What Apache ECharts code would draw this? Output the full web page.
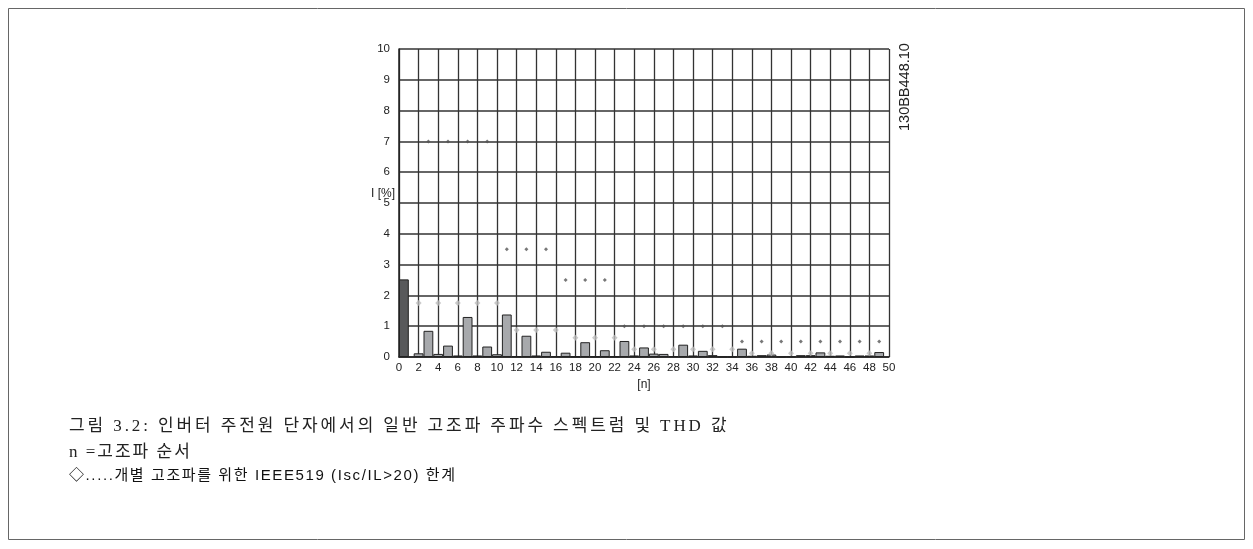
<!DOCTYPE html>
<html><head><meta charset="utf-8">
<script src="https://cdn.jsdelivr.net/npm/echarts@6/dist/echarts.min.js"></script>
<style>
html,body{margin:0;padding:0;background:#fff}
#wrap{position:relative;width:1253px;height:549px}
#c{width:1253px;height:549px}
.cap{position:absolute;left:69px;white-space:nowrap;color:#222}
.serif{font-family:"Liberation Serif","Noto Sans CJK KR",serif}
.sans{font-family:"Liberation Sans","Noto Sans CJK KR",sans-serif}
</style>
</head><body><div id="wrap"><div id="c"></div>
<div class="cap serif" id="cap1" style="top:411px;font-size:17px;letter-spacing:2.9px">그림 3.2: 인버터 주전원 단자에서의 일반 고조파 주파수 스펙트럼 및 THD 값</div>
<div class="cap serif" id="cap2" style="top:437px;font-size:17px;letter-spacing:2px">n =고조파 순서</div>
<div class="cap sans" id="cap3" style="top:463px;font-size:15px;letter-spacing:1.6px;color:#111">◇.....개별 고조파를 위한 IEEE519 (Isc/IL&gt;20) 한계</div>
</div>
<script>
// Harmonic orders and measured current [%]
const harmonicOrders = [2,3,4,5,6,7,8,9,10,11,12,13,14,15,16,17,18,19,20,21,22,23,24,25,26,27,28,29,30,31,32,33,34,35,36,37,38,39,40,41,42,43,44,45,46,47,48,49];
const harmonicValues = [0.12,0.85,0.10,0.37,0.05,1.30,0.05,0.34,0.09,1.38,0.03,0.69,0.05,0.17,0.03,0.14,0.02,0.48,0.02,0.22,0.02,0.52,0.05,0.31,0.11,0.10,0.03,0.40,0.05,0.20,0.06,0.01,0.01,0.27,0.04,0.06,0.08,0.01,0.02,0.06,0.06,0.15,0.04,0.05,0.01,0.05,0.05,0.16];
// THD bar (drawn at first unit)
const thdPosition = [0.5];
const thdValue = [2.52];
// IEEE519 limits, odd harmonics
const oddLimitOrders = [3,5,7,9,11,13,15,17,19,21,23,25,27,29,31,33,35,37,39,41,43,45,47,49];
const oddLimitValues = [7,7,7,7,3.5,3.5,3.5,2.5,2.5,2.5,1,1,1,1,1,1,0.5,0.5,0.5,0.5,0.5,0.5,0.5,0.5];
// IEEE519 limits, even harmonics (25%)
const evenLimitOrders = [2,4,6,8,10,12,14,16,18,20,22,24,26,28,30,32,34,36,38,40,42,44,46,48];
const evenLimitValues = [1.75,1.75,1.75,1.75,1.75,0.875,0.875,0.875,0.625,0.625,0.625,0.25,0.25,0.25,0.25,0.25,0.25,0.125,0.125,0.125,0.125,0.125,0.125,0.125];
const xTicks = {min:0, max:50, interval:2};
const yTicks = {min:0, max:10, interval:1};

const chart = echarts.init(document.getElementById('c'), null, {renderer:'canvas'});
const gridW = 490;
const unitPx = gridW / (xTicks.max - xTicks.min);
const latin = '"Liberation Sans", "Noto Sans CJK KR", sans-serif';
const zip = (a,b)=>a.map((v,i)=>[v,b[i]]);
chart.setOption({
  animation:false,
  grid:{left:399, top:49, width:gridW, height:308},
  xAxis:{type:'value', min:xTicks.min, max:xTicks.max, interval:xTicks.interval,
    name:'[n]', nameLocation:'middle', nameGap:20,
    nameTextStyle:{fontFamily:latin, fontSize:12, color:'#222'},
    axisLine:{show:true, lineStyle:{color:'#222', width:1.5}},
    axisTick:{show:false},
    axisLabel:{fontFamily:latin, fontSize:11.5, color:'#222', margin:5},
    splitLine:{show:true, lineStyle:{color:'#333', width:1.3}}},
  yAxis:{type:'value', min:yTicks.min, max:yTicks.max, interval:yTicks.interval,
    axisLine:{show:true, lineStyle:{color:'#222', width:1.5}},
    axisTick:{show:false},
    axisLabel:{fontFamily:latin, fontSize:11.5, color:'#222', margin:9},
    splitLine:{show:true, lineStyle:{color:'#333', width:1.5}}},
  series:[
    {type:'bar', name:'THD', data:zip(thdPosition, thdValue), barWidth:unitPx, barGap:'-100%',
     itemStyle:{color:'#58595b', borderColor:'#222', borderWidth:1}, z:3},
    {type:'bar', name:'harmonics', data:zip(harmonicOrders, harmonicValues), barWidth:unitPx, barGap:'-100%',
     itemStyle:{color:'#a7a9ac', borderColor:'#222', borderWidth:1}, z:3},
    {type:'scatter', name:'IEEE519 even', data:zip(evenLimitOrders, evenLimitValues), symbol:'diamond', symbolSize:6,
     itemStyle:{color:'#bdbdbd'}, z:4},
    {type:'scatter', name:'IEEE519 odd', data:zip(oddLimitOrders, oddLimitValues), symbol:'diamond', symbolSize:4,
     itemStyle:{color:'#555'}, z:4}
  ],
  graphic:[
    {type:'rect', shape:{x:8.5, y:8.5, width:1236, height:531}, style:{fill:'none', stroke:'#666', lineWidth:1}, silent:true},
    {type:'text', left:371, top:188, style:{text:'I [%]', font:'12px '+latin, fill:'#222'}},
    {type:'text', x:898, y:131, rotation:Math.PI/2, style:{text:'130BB448.10', font:'14.5px '+latin, fill:'#222'}}
  ]
});
</script></body></html>
